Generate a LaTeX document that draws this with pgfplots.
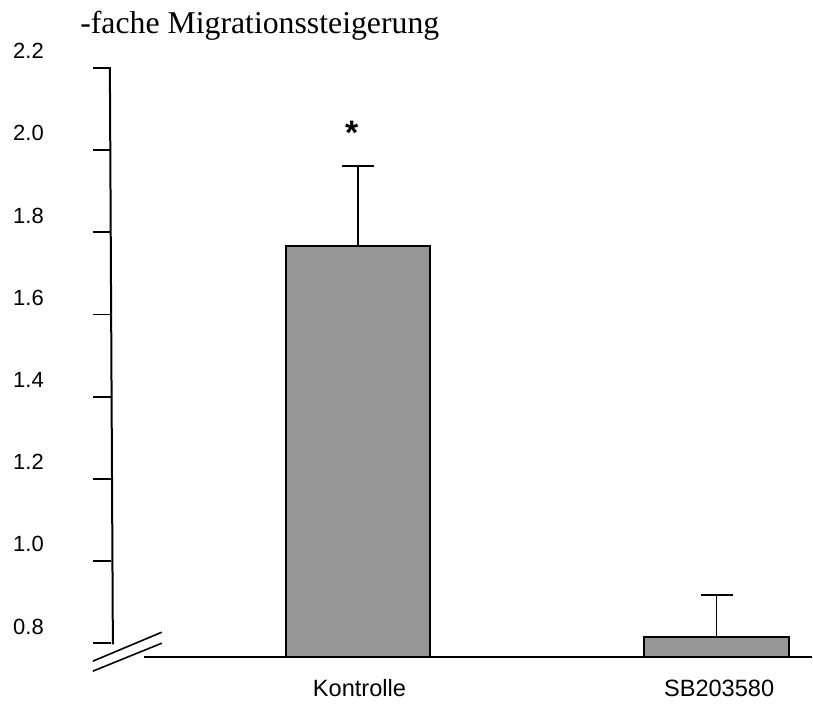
\documentclass[border=0pt]{standalone}
\usepackage{fontspec}
\setmainfont{Liberation Sans}
\newfontfamily\titlefont{Liberation Serif}
\usepackage{pgfplots}
\pgfplotsset{compat=1.18}
\definecolor{bargray}{RGB}{150,150,150}

\begin{document}
\begin{tikzpicture}
\begin{axis}[
    scale only axis,
    width=406.5pt, height=349.5pt,
    xmin=-0.99861, xmax=1.26602,
    ymin=0.66634, ymax=2.36501,
    % bars start at the broken baseline (0.766)
    y coord trafo/.code={\pgfmathparse{#1-0.766}},
    y coord inv trafo/.code={\pgfmathparse{#1+0.766}},
    axis lines=none,
    xtick=\empty, ytick=\empty,
    clip=false,
    ybar, bar width=72.5pt,
]
\path (rel axis cs:0,0) rectangle (rel axis cs:1,1);

% baseline and broken y axis
\draw[line width=1pt] (axis cs:-0.5975,0.766) -- (axis cs:1.266,0.766);
\draw[line width=1pt] (axis cs:-0.6922,2.2) -- (axis cs:-0.6838,0.797);
\pgfplotsinvokeforeach{0.8,1.0,1.2,1.4,1.6,1.8,2.0,2.2}{
    \draw[line width=0.9pt] (axis cs:-0.7396,#1) -- (axis cs:-0.6894,#1);
    \node[anchor=base, font=\fontsize{11}{13}\selectfont, yshift=4.6pt] at (axis cs:-0.9192,#1) {#1};
}
\draw[line width=0.8pt] (axis cs:-0.7396,0.7563) -- (axis cs:-0.5474,0.8267);
\draw[line width=0.8pt] (axis cs:-0.7396,0.7320) -- (axis cs:-0.5474,0.8);

\addplot[fill=bargray, draw=black, line width=1pt,
    error bars/.cd, y dir=plus, y explicit,
    error bar style={line width=0.8pt},
    error mark options={rotate=90, mark size=8pt, line width=0.8pt}]
coordinates {
    (0, 1.767) +- (0, 0.194)
    (1, 0.816) +- (0, 0.102)
};

\node[font=\fontsize{17}{19}\selectfont\bfseries] at (axis cs:-0.018,2.043) {*};
\node[anchor=base, font=\fontsize{11.8}{14}\selectfont] at (axis cs:0.004,0.6712) {Kontrolle};
\node[anchor=base, font=\fontsize{11.8}{14}\selectfont] at (axis cs:1.007,0.6712) {SB203580};
\node[anchor=base west, inner sep=0pt, font=\titlefont\fontsize{15.9}{18}\selectfont] at (axis cs:-0.7758,2.2824) {-fache Migrationssteigerung};
\end{axis}
\end{tikzpicture}
\end{document}
